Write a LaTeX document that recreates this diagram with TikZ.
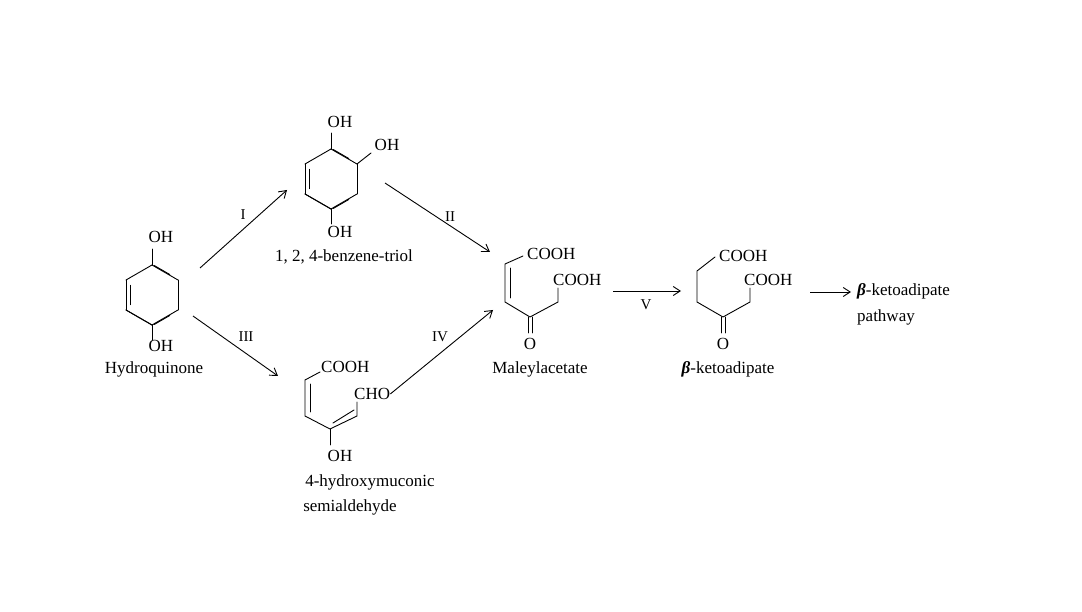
\documentclass[tikz,border=0pt]{standalone}
\usepackage{fontspec}
\setmainfont{Liberation Serif}
\usetikzlibrary{calc,arrows.meta}
\begin{document}
\begin{tikzpicture}[x=1pt,y=-1pt,
  bond/.style={line width=0.9pt,line cap=round,line join=round},
  rxn/.style={line width=0.9pt,-{Straight Barb[length=7pt,width=9pt]}},
  txt/.style={inner sep=0pt,font=\fontsize{17}{20}\selectfont},
  chem/.style={inner sep=0pt,font=\fontsize{17}{20}\selectfont},
  lab/.style={inner sep=0pt,font=\fontsize{15}{18}\selectfont}]
\useasboundingbox[fill=white] (0,0) rectangle (1082,612);
% ---- Hydroquinone
\begin{scope}[shift={(152,295)}]
  \foreach \a in {90,150,...,450}{\draw[bond] (\a:30) -- (\a+60:30);}
  \draw[bond] ($(150:30)!0.18!(210:30)+(4,0)$) -- ($(210:30)!0.18!(150:30)+(4,0)$);
  \draw[bond] ($(30:30)!0.2!(90:30)+(-3,2.5)$) -- ($(90:30)!0.2!(30:30)+(-3,2.5)$);
  \draw[bond] ($(-30:30)!0.2!(-90:30)+(-3,-2.5)$) -- ($(-90:30)!0.2!(-30:30)+(-3,-2.5)$);
  \draw[bond] (0,-30) -- (0,-46);
  \draw[bond] (0,30) -- (0,45);
\end{scope}
\node[chem] (hqoh1) at (161,237) {OH};
\node[chem] (hqoh2) at (161,346) {OH};
\node[txt] (hq) at (154,369) {Hydroquinone};
\coordinate (hqr1) at (200,268);
\coordinate (hqr2) at (193,316);
% ---- triol
\begin{scope}[shift={(331,179)}]
  \foreach \a in {90,150,...,450}{\draw[bond] (\a:30) -- (\a+60:30);}
  \draw[bond] ($(150:30)!0.18!(210:30)+(4,0)$) -- ($(210:30)!0.18!(150:30)+(4,0)$);
  \draw[bond] ($(30:30)!0.2!(90:30)+(-3,2.5)$) -- ($(90:30)!0.2!(30:30)+(-3,2.5)$);
  \draw[bond] ($(-30:30)!0.2!(-90:30)+(-3,-2.5)$) -- ($(-90:30)!0.2!(-30:30)+(-3,-2.5)$);
  \draw[bond] (0,-30) -- (0,-46);
  \draw[bond] (0,30) -- (0,45);
  \draw[bond] (26,-15) -- (40,-26);
\end{scope}
\node[chem] (toh1) at (340,122) {OH};
\node[chem] (toh2) at (387,145) {OH};
\node[chem] (toh3) at (340,232) {OH};
\node[txt] (triol) at (344,257) {1, 2, 4-benzene-triol};
\coordinate (tr) at (385,183);
% ---- semialdehyde
\draw[bond] (320,372) -- (305,380) -- (305,416) -- (330,429) -- (357,416) -- (357,402);
\draw[bond] (310,384) -- (310,412);
\draw[bond] (333,423) -- (354,410);
\draw[bond] (330,429) -- (330,445);
\node[chem,anchor=west] (scooh) at (321,367) {COOH};
\node[chem,anchor=west] (scho) at (354,394) {CHO};
\node[chem] (soh) at (340,456) {OH};
\node[txt] (sname1) at (370,482) {4-hydroxymuconic};
\node[txt] (sname2) at (350,507) {semialdehyde};
% ---- maleylacetate
\draw[bond] (523,256) -- (505,264) -- (505,302) -- (530,317) -- (558,302) -- (558,288);
\draw[bond] (510,268) -- (510,298);
\draw[bond] (528,317) -- (528,333);
\draw[bond] (532,317) -- (532,333);
\node[chem,anchor=west] (mcooh1) at (527,254) {COOH};
\node[chem,anchor=west] (mcooh2) at (553,280) {COOH};
\node[chem] (mo) at (530,344) {O};
\node[txt] (mal) at (540,369) {Maleylacetate};
\coordinate (mtop) at (490,252);
\coordinate (mbot) at (493,310);
% ---- beta-ketoadipate
\draw[bond] (715,257) -- (697,271) -- (697,302) -- (723,317) -- (750,302) -- (750,288);
\draw[bond] (721,317) -- (721,333);
\draw[bond] (725,317) -- (725,333);
\node[chem,anchor=west] (kcooh1) at (719,256) {COOH};
\node[chem,anchor=west] (kcooh2) at (744,280) {COOH};
\node[chem] (ko) at (723,344) {O};
\node[txt] (keto) at (728,369) {\textbf{\textit{β}}-ketoadipate};
% ---- pathway
\node[txt,anchor=west] (pw1) at (857,291) {\textbf{\textit{β}}-ketoadipate};
\node[txt,anchor=west] (pw2) at (857,317) {pathway};
% ---- arrows
\draw[rxn] (hqr1) -- (287,190);
\draw[rxn] (tr) -- (mtop);
\draw[rxn] (hqr2) -- (278,376);
\draw[rxn] (scho.east) -- (mbot);
\draw[rxn] (613,291) -- (681,291);
\draw[rxn] (810,292) -- (851,292);
\node[lab] (lI) at (243,215) {I};
\node[lab] (lII) at (450,217) {II};
\node[lab] (lIII) at (246,337) {III};
\node[lab] (lIV) at (440,337) {IV};
\node[lab] (lV) at (646,305) {V};
\end{tikzpicture}
\end{document}
